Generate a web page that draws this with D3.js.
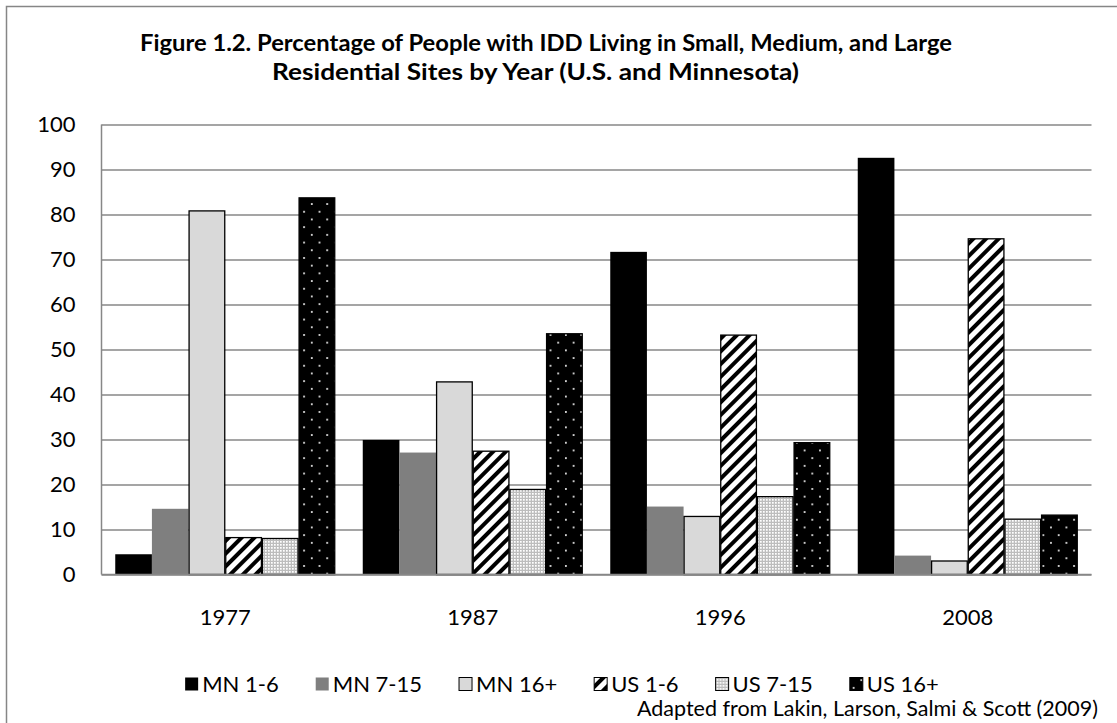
<!DOCTYPE html>
<html>
<head>
<meta charset="utf-8">
<script src="https://cdn.jsdelivr.net/npm/d3@7"></script>
<style>
  body { margin: 0; background: #fff; }
  svg text { font-family: Lato, "Open Sans", sans-serif; fill: #000; }
</style>
</head>
<body>
<svg id="chart" width="1117" height="723"></svg>
<script>
const years = ["1977", "1987", "1996", "2008"];
const seriesNames = ["MN 1-6", "MN 7-15", "MN 16+", "US 1-6", "US 7-15", "US 16+"];
const mn1to6  = [4.5, 29.9, 71.7, 92.6];
const mn7to15 = [14.6, 27.1, 15.1, 4.2];
const mn16    = [80.8, 42.8, 12.9, 3.0];
const us1to6  = [8.2, 27.4, 53.2, 74.6];
const us7to15 = [8.0, 18.9, 17.3, 12.3];
const us16    = [83.7, 53.5, 29.3, 13.2];
const yTicks = [0, 10, 20, 30, 40, 50, 60, 70, 80, 90, 100];
const titleLines = ["Figure 1.2. Percentage of People with IDD Living in Small, Medium, and Large",
                    "Residential Sites by Year (U.S. and Minnesota)"];
const sourceText = "Adapted from Lakin, Larson, Salmi & Scott (2009)";

const seriesValues = [mn1to6, mn7to15, mn16, us1to6, us7to15, us16];

let svg = d3.select("#chart");
const plot = {left: 101.5, right: 1091.5, top: 124.5, bottom: 574.5};
const fontSize = "22px";

// patterns
let defs = svg.append("defs");

let stripes = defs.append("pattern")
    .attr("id", "stripes")
    .attr("patternUnits", "userSpaceOnUse")
    .attr("width", 9).attr("height", 9)
    .attr("patternTransform", "rotate(45)");
stripes.append("rect").attr("width", 9).attr("height", 9).attr("fill", "#fff");
stripes.append("rect").attr("x", 0).attr("width", 4).attr("height", 9).attr("fill", "#000");

let fineDots = defs.append("pattern")
    .attr("id", "fineDots")
    .attr("patternUnits", "userSpaceOnUse")
    .attr("width", 3).attr("height", 3);
fineDots.append("rect").attr("width", 3).attr("height", 3).attr("fill", "#bdbdbd");
fineDots.append("rect").attr("x", 1).attr("y", 1).attr("width", 1.7).attr("height", 1.7).attr("fill", "#fff");

let darkDots = defs.append("pattern")
    .attr("id", "darkDots")
    .attr("patternUnits", "userSpaceOnUse")
    .attr("width", 15.4).attr("height", 15.4);
darkDots.append("rect").attr("width", 15.4).attr("height", 15.4).attr("fill", "#000");
darkDots.append("circle").attr("cx", 3.8).attr("cy", 3.8).attr("r", 1).attr("fill", "#fff");
darkDots.append("circle").attr("cx", 11.5).attr("cy", 11.5).attr("r", 1).attr("fill", "#fff");

const fills = ["#000", "#7f7f7f", "#d9d9d9", "url(#stripes)", "url(#fineDots)", "url(#darkDots)"];
const strokes = ["none", "none", "#000", "#000", "#000", "#000"];

// outer frame
svg.append("rect")
    .attr("x", 6.5).attr("y", 6.5)
    .attr("width", 1300).attr("height", 900)
    .attr("fill", "none")
    .attr("stroke", "#868686")
    .attr("stroke-width", 1.5);

// title
const titleSpan = [[140, 952], [272, 799]];
svg.selectAll(".title")
    .data(titleLines)
    .enter()
    .append("text")
    .attr("class", "title")
    .attr("x", function(d, i) { return titleSpan[i][0]; })
    .attr("y", function(d, i) { return 43 + i * 29; })
    .attr("dy", "0.35em")
    .attr("font-weight", "bold")
    .attr("font-size", "23.5px")
    .attr("textLength", function(d, i) { return titleSpan[i][1] - titleSpan[i][0]; })
    .attr("lengthAdjust", "spacingAndGlyphs")
    .text(function(d) { return d; });

let x0 = d3.scaleBand()
    .domain(years)
    .range([plot.left, plot.right])
    .paddingInner(27.5 / 247.5)
    .paddingOuter(13.75 / 247.5);

let x1 = d3.scaleBand()
    .domain(seriesNames)
    .range([0, x0.bandwidth()])
    .padding(0);

let y = d3.scaleLinear()
    .domain([0, 100])
    .range([plot.bottom, plot.top]);

// gridlines
let yAxis = svg.append("g")
    .attr("transform", "translate(" + plot.left + ",0)")
    .call(d3.axisLeft(y)
        .tickValues(yTicks)
        .tickSize(-(plot.right - plot.left))
        .tickPadding(26)
        .tickFormat(d3.format("d")));
yAxis.select(".domain").remove();
yAxis.selectAll(".tick line")
    .attr("stroke", "#878787")
    .attr("stroke-width", 1.5);
yAxis.selectAll(".tick text")
    .attr("font-size", fontSize)
    .attr("font-family", "Lato, sans-serif")
    .attr("fill", "#000");

// left axis line
svg.append("line")
    .attr("x1", plot.left).attr("x2", plot.left)
    .attr("y1", plot.top).attr("y2", plot.bottom)
    .attr("stroke", "#878787")
    .attr("stroke-width", 1.5);

// bars
let barData = [];
years.forEach(function(yr, i) {
    seriesNames.forEach(function(s, j) {
        barData.push({year: yr, series: s, idx: j, value: seriesValues[j][i]});
    });
});

svg.append("g")
    .selectAll("rect")
    .data(barData)
    .enter()
    .append("rect")
    .attr("x", function(d) { return x0(d.year) + x1(d.series) + (strokes[d.idx] == "none" ? 0 : 0.5); })
    .attr("y", function(d) { return y(d.value); })
    .attr("width", function(d) { return x1.bandwidth() - (strokes[d.idx] == "none" ? 0 : 1); })
    .attr("height", function(d) { return plot.bottom - y(d.value); })
    .attr("fill", function(d) { return fills[d.idx]; })
    .attr("stroke", function(d) { return strokes[d.idx]; })
    .attr("stroke-width", 1.3);

// baseline
svg.append("line")
    .attr("x1", plot.left).attr("x2", plot.right)
    .attr("y1", plot.bottom).attr("y2", plot.bottom)
    .attr("stroke", "#878787")
    .attr("stroke-width", 1.5);

// year labels
svg.selectAll(".year")
    .data(years)
    .enter()
    .append("text")
    .attr("class", "year")
    .attr("x", function(d) { return x0(d) + x0.bandwidth() / 2; })
    .attr("y", 617)
    .attr("dy", "0.35em")
    .attr("text-anchor", "middle")
    .attr("font-size", fontSize)
    .text(function(d) { return d; });

// legend
let legend = svg.append("g").attr("class", "legend");
let items = legend.selectAll("g")
    .data(seriesNames)
    .enter()
    .append("g");
items.append("rect")
    .attr("width", 13).attr("height", 13)
    .attr("y", -6.5)
    .attr("fill", function(d, i) { return fills[i]; })
    .attr("stroke", function(d, i) { return strokes[i]; })
    .attr("stroke-width", 1);
items.append("text")
    .attr("x", 17)
    .attr("dy", "0.35em")
    .attr("font-size", fontSize)
    .text(function(d) { return d; });

let legendX = 0;
const legendGap = 37;
items.each(function(d) {
    let w = 17 + d3.select(this).select("text").node().getComputedTextLength();
    d3.select(this).attr("transform", "translate(" + legendX + ",0)");
    legendX += w + legendGap;
});
let legendW = legendX - legendGap;
legend.attr("transform", "translate(" + (562 - legendW / 2) + ",684)");

// source
svg.append("text")
    .attr("x", 1098)
    .attr("y", 708)
    .attr("dy", "0.35em")
    .attr("text-anchor", "end")
    .attr("font-size", "21.5px")
    .text(sourceText);
</script>
</body>
</html>
